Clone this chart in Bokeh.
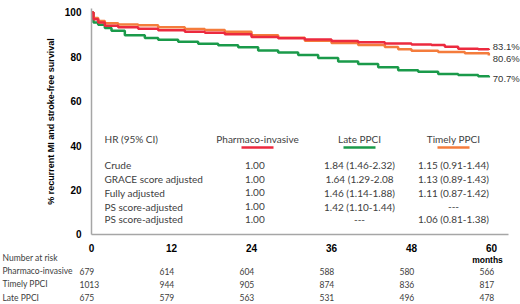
from bokeh.plotting import figure
from bokeh.models import Label, Range1d, FixedTicker
from bokeh.embed import file_html
from bokeh.resources import INLINE

# ---- survival curves (months, % event-free) ----
pharm_t = [0, 0.3, 1, 2, 4, 7, 10, 14, 17, 20, 24, 28, 32, 36, 40, 44, 48, 51, 53, 55, 58, 59.6]
pharm_s = [100, 97, 95.5, 94, 93.3, 92.7, 92, 91.3, 90.9, 90.2, 89.0, 88.4, 87.8, 87.2, 86.6, 86.0, 85.6, 85.3, 84.6, 83.7, 83.4, 83.1]

timely_t = [0, 0.3, 1, 2, 4, 7, 10, 14, 17, 20, 24, 28, 32, 36, 40, 44, 46, 48, 52, 56, 59.6]
timely_s = [100, 97.5, 96.2, 95.2, 94.6, 94.2, 93.4, 92.6, 92.1, 91.3, 89.8, 88.6, 87.3, 86.3, 85.4, 84.4, 83.4, 82.8, 82.2, 81.6, 80.6]

late_t = [0, 0.3, 1, 2, 3, 5, 8, 10, 13, 16, 19, 22, 25, 28, 31, 34, 37, 40, 43, 46, 49, 52, 55, 58, 59.6]
late_s = [100, 95.5, 94.5, 93, 91.8, 89.8, 88.5, 87.7, 86.8, 85.9, 85.2, 84.3, 82.9, 82.0, 80.8, 79.5, 77.9, 76.8, 75.3, 74.0, 73.3, 72.3, 71.8, 71.3, 70.7]

end_labels = ["83.1%", "80.6%", "70.7%"]

x_ticks = [0, 12, 24, 36, 48, 60]
y_ticks = [0, 20, 40, 60, 80, 100]

# ---- HR table ----
hr_title = "HR (95% CI)"
hr_groups = ["Pharmaco-invasive", "Late PPCI", "Timely PPCI"]
hr_rows = ["Crude", "GRACE score adjusted", "Fully adjusted", "PS score-adjusted", "PS score-adjusted"]
hr_pharm = ["1.00", "1.00", "1.00", "1.00", "1.00"]
hr_late = ["1.84 (1.46-2.32)", "1.64 (1.29-2.08", "1.46 (1.14-1.88)", "1.42 (1.10-1.44)", "---"]
hr_timely = ["1.15 (0.91-1.44)", "1.13 (0.89-1.43)", "1.11 (0.87-1.42)", "---", "1.06 (0.81-1.38)"]

# ---- number at risk ----
risk_title = "Number at risk"
risk_groups = ["Pharmaco-invasive", "Timely PPCI", "Late PPCI"]
risk_months = [0, 12, 24, 36, 48, 60]
risk_pharm = [679, 614, 604, 588, 580, 566]
risk_timely = [1013, 944, 905, 874, 836, 817]
risk_late = [675, 579, 563, 531, 496, 478]

RED = "#ec2a3f"
ORANGE = "#f47c3c"
GREEN = "#1a9a4a"
TXT = "#404040"
FONT = "Lato"

# frame covers the whole window; axes are pinned at 0 and bounded
p = figure(width=520, height=304, output_backend="svg", toolbar_location=None,
           x_range=Range1d(-13.65, 64.35), y_range=Range1d(-31.53, 105.4),
           min_border_left=0, min_border_right=0, min_border_top=0, min_border_bottom=0)
p.outline_line_color = None
p.grid.visible = False
p.background_fill_color = "white"
p.border_fill_color = "white"

for ax in (p.xaxis, p.yaxis):
    ax.fixed_location = 0
    ax.major_tick_line_color = None
    ax.minor_tick_line_color = None
    ax.axis_line_color = "#a6a6a6"
    ax.axis_line_width = 1.5
    ax.major_label_text_font = "Liberation Sans"
    ax.major_label_text_font_style = "bold"
    ax.major_label_text_font_size = "10px"
    ax.major_label_text_color = "#000000"
    ax.major_label_standoff = 4
p.xaxis.ticker = FixedTicker(ticks=x_ticks)
p.xaxis.bounds = (0, 62.55)
p.yaxis.ticker = FixedTicker(ticks=y_ticks)
p.yaxis.bounds = (0, 101.8)
p.yaxis.axis_label = "% recurrent MI and stroke-free survival"
p.yaxis.axis_label_text_font = "Liberation Sans"
p.yaxis.axis_label_text_font_style = "bold"
p.yaxis.axis_label_text_font_size = "9px"
p.yaxis.axis_label_text_color = "#000000"
p.yaxis.axis_label_standoff = 6

p.step(late_t, late_s, mode="after", line_width=2.5, line_color=GREEN)
p.step(timely_t, timely_s, mode="after", line_width=2.5, line_color=ORANGE)
p.step(pharm_t, pharm_s, mode="after", line_width=2.5, line_color=RED)

# end labels
ends = [pharm_s[-1], timely_s[-1], late_s[-1]]
nudges = [1.6, -1.4, -0.3]
for txt, v, n in zip(end_labels, ends, nudges):
    p.add_layout(Label(x=60.2, y=v + n, text=txt, text_font="Liberation Sans",
                       text_font_size="9.5px", text_color="#333333",
                       text_baseline="middle", text_align="left"))

# HR table
HR_FS = "10px"
col_x = [24.9, 40.2, 54.3]
head_y = 42.8
row_y = [31.1, 24.8, 18.9, 12.6, 6.8]
colors = [RED, GREEN, ORANGE]
p.add_layout(Label(x=1.95, y=head_y, text=hr_title, text_font=FONT, text_font_size=HR_FS,
                   text_color=TXT, text_baseline="middle", text_align="left"))
for g, cx, c in zip(hr_groups, col_x, colors):
    p.add_layout(Label(x=cx, y=head_y, text=g, text_font=FONT, text_font_size=HR_FS,
                       text_color=TXT, text_baseline="middle", text_align="center"))
    p.segment(x0=[cx - 2.4], x1=[cx + 2.4], y0=[head_y - 3.6], y1=[head_y - 3.6],
              line_color=c, line_width=2.5)
for i, ry in enumerate(row_y):
    p.add_layout(Label(x=1.95, y=ry, text=hr_rows[i], text_font=FONT, text_font_size=HR_FS,
                       text_color=TXT, text_baseline="middle", text_align="left"))
    for vals, cx in zip([hr_pharm, hr_late, hr_timely], [24.5, 40.2, 54.3]):
        p.add_layout(Label(x=cx, y=ry, text=vals[i], text_font=FONT, text_font_size=HR_FS,
                           text_color=TXT, text_baseline="middle", text_align="center"))

# months label + number at risk
RK_FS = "8.5px"
p.add_layout(Label(x=59.4, y=-11.3, text="months", text_font="Liberation Sans",
                   text_font_style="bold", text_font_size="8.5px", text_color="#000000",
                   text_baseline="middle", text_align="center"))
p.add_layout(Label(x=-13.35, y=-10.4, text=risk_title, text_font=FONT, text_font_size=RK_FS,
                   text_color=TXT, text_baseline="middle", text_align="left"))
risk_y = [-16.6, -22.5, -28.4]
for name, vals, ry in zip(risk_groups, [risk_pharm, risk_timely, risk_late], risk_y):
    p.add_layout(Label(x=-13.35, y=ry, text=name, text_font=FONT, text_font_size=RK_FS,
                       text_color=TXT, text_baseline="middle", text_align="left"))
    for m, v in zip(risk_months, vals):
        p.add_layout(Label(x=m, y=ry, x_offset=-12, text=str(v), text_font=FONT,
                           text_font_size=RK_FS, text_color=TXT,
                           text_baseline="middle", text_align="left"))

open("out.html", "w").write(file_html(p, INLINE))
